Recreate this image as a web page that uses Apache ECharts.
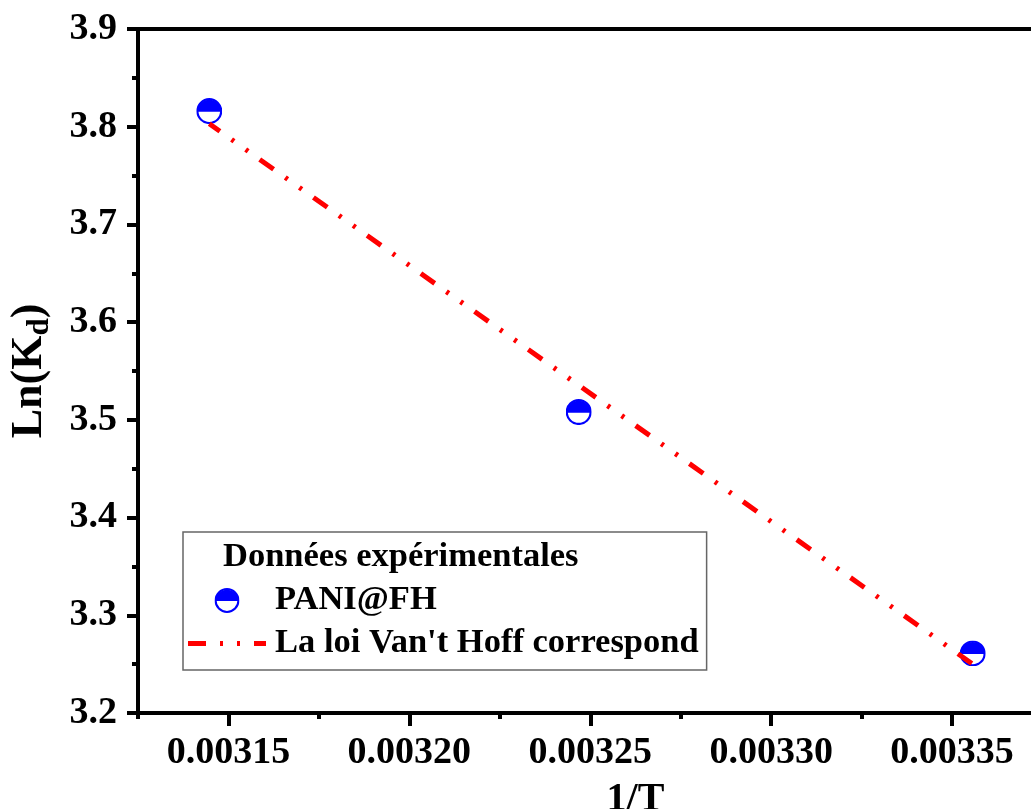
<!DOCTYPE html>
<html>
<head>
<meta charset="utf-8">
<style>
  html, body { margin: 0; padding: 0; background: #fff; }
  #chart { width: 1031px; height: 809px; }
</style>
<script src="https://cdn.jsdelivr.net/npm/echarts@6/dist/echarts.min.js"></script>
</head>
<body>
<div id="chart"></div>
<script>
// Van't Hoff plot: ln(Kd) versus 1/T
const invT = [0.0031447, 0.0032468, 0.0033557];
const lnKd = [3.816, 3.508, 3.261];
// fitted straight line, drawn between the first and last temperatures
const fitX = [0.0031447, 0.0033557];
const fitY = [3.803, 3.250];

const xMajorTicks = [0.00315, 0.00320, 0.00325, 0.00330, 0.00335];
const xMinorTicks = [0.003125, 0.003175, 0.003225, 0.003275, 0.003325, 0.003375];

const seriesNames = ['PANI@FH', "La loi Van't Hoff correspond"];
const legendHeader = 'Données expérimentales';
const xTitle = '1/T';

const FONT = '"Liberation Serif", "Times New Roman", serif';

// half-filled circle marker
const markerSvg =
  "<svg xmlns='http://www.w3.org/2000/svg' width='26' height='26' viewBox='0 0 26 26'>" +
  "<circle cx='13' cy='13' r='11.9' fill='#ffffff' stroke='#0000ff' stroke-width='2.2'/>" +
  "<path d='M1.1,13.6 A11.9,11.9 0 0 1 24.9,13.6 Z' fill='#0000ff'/>" +
  "</svg>";
const markerIcon = 'image://data:image/svg+xml;charset=utf-8,' + encodeURIComponent(markerSvg);
// dash-dot-dot sample for the fit line legend entry
const fitIcon = 'path://M0,0H18V5H0Z M32,0H35V5H32Z M49,0H52V5H49Z M66,0H78V5H66Z';

const chart = echarts.init(document.getElementById('chart'), null, { renderer: 'canvas' });

const pts = invT.map((x, i) => [x, lnKd[i]]);
const fitPts = fitX.map((x, i) => [x, fitY[i]]);

chart.setOption({
  animation: false,
  backgroundColor: '#ffffff',
  textStyle: { fontFamily: FONT },
  grid: {
    left: 138, top: 29, bottom: 96, right: -102,
    outerBoundsMode: 'none', containLabel: false,
    show: true, borderColor: '#000', borderWidth: 4, backgroundColor: 'transparent'
  },
  title: {
    text: legendHeader,
    left: 223, top: 540, padding: 0, z: 10,
    textStyle: { fontFamily: FONT, fontSize: 34.5, fontWeight: 'bold', color: '#000', lineHeight: 34 }
  },
  legend: {
    orient: 'vertical',
    left: 183, top: 532,
    padding: [51, 8, 9, 5],
    itemWidth: 78, itemHeight: 25, itemGap: 8,
    borderColor: '#666', borderWidth: 1.5,
    data: [
      { name: seriesNames[0], icon: markerIcon },
      { name: seriesNames[1], icon: fitIcon, itemStyle: { color: '#ff0000' } }
    ],
    textStyle: {
      fontFamily: FONT, fontSize: 34.5, fontWeight: 'bold', color: '#000',
      lineHeight: 34, padding: [0, 0, 0, 4]
    }
  },
  xAxis: [
    {
      type: 'value', min: 0.003125, max: 0.0034, position: 'bottom',
      interval: 0.000025,
      name: xTitle, nameLocation: 'middle', nameGap: 67,
      nameTextStyle: { fontFamily: FONT, fontSize: 40, fontWeight: 'bold', color: '#000' },
      axisLine: { show: true, lineStyle: { color: '#000', width: 4 } },
      axisTick: { show: true, customValues: xMajorTicks, length: 13, lineStyle: { color: '#000', width: 4 } },
      axisLabel: {
        customValues: xMajorTicks, margin: 21,
        fontFamily: FONT, fontSize: 38, fontWeight: 'bold', color: '#000',
        formatter: v => v.toFixed(5)
      },
      splitLine: { show: false }
    },
    {
      type: 'value', min: 0.003125, max: 0.0034, position: 'bottom',
      interval: 0.000025,
      axisLine: { show: false },
      axisTick: { show: true, customValues: xMinorTicks, length: 6, lineStyle: { color: '#000', width: 4 } },
      axisLabel: { show: false },
      splitLine: { show: false }
    }
  ],
  yAxis: {
    type: 'value', min: 3.2, max: 3.9, interval: 0.1,
    name: '{m|Ln(K}{s|d}{m|)}', nameLocation: 'middle', nameGap: 83, nameRotate: 90,
    nameTextStyle: {
      fontFamily: FONT, fontWeight: 'bold', color: '#000',
      rich: {
        m: { fontFamily: FONT, fontSize: 44, fontWeight: 'bold', color: '#000', lineHeight: 50 },
        s: { fontFamily: FONT, fontSize: 31, fontWeight: 'bold', color: '#000', lineHeight: 31, padding: [19, 0, 0, 0] }
      }
    },
    axisLine: { show: true, lineStyle: { color: '#000', width: 4 } },
    axisTick: { show: true, length: 11, lineStyle: { color: '#000', width: 4 } },
    minorTick: { show: true, splitNumber: 2, length: 6, lineStyle: { color: '#000', width: 4 } },
    axisLabel: {
      margin: 21, fontFamily: FONT, fontSize: 38, fontWeight: 'bold', color: '#000',
      formatter: v => v.toFixed(1)
    },
    splitLine: { show: false },
    minorSplitLine: { show: false }
  },
  series: [
    {
      name: seriesNames[0],
      type: 'scatter',
      data: pts,
      symbol: markerIcon,
      symbolSize: 26,
      itemStyle: { opacity: 1 },
      z: 2
    },
    {
      name: seriesNames[1],
      type: 'line',
      data: fitPts,
      symbol: 'none',
      lineStyle: { color: '#ff0000', width: 5, type: [17, 14.3, 3, 14.3, 3, 14.2], dashOffset: 4, cap: 'butt' },
      itemStyle: { color: '#ff0000' },
      z: 3
    }
  ]
});
</script>
</body>
</html>
